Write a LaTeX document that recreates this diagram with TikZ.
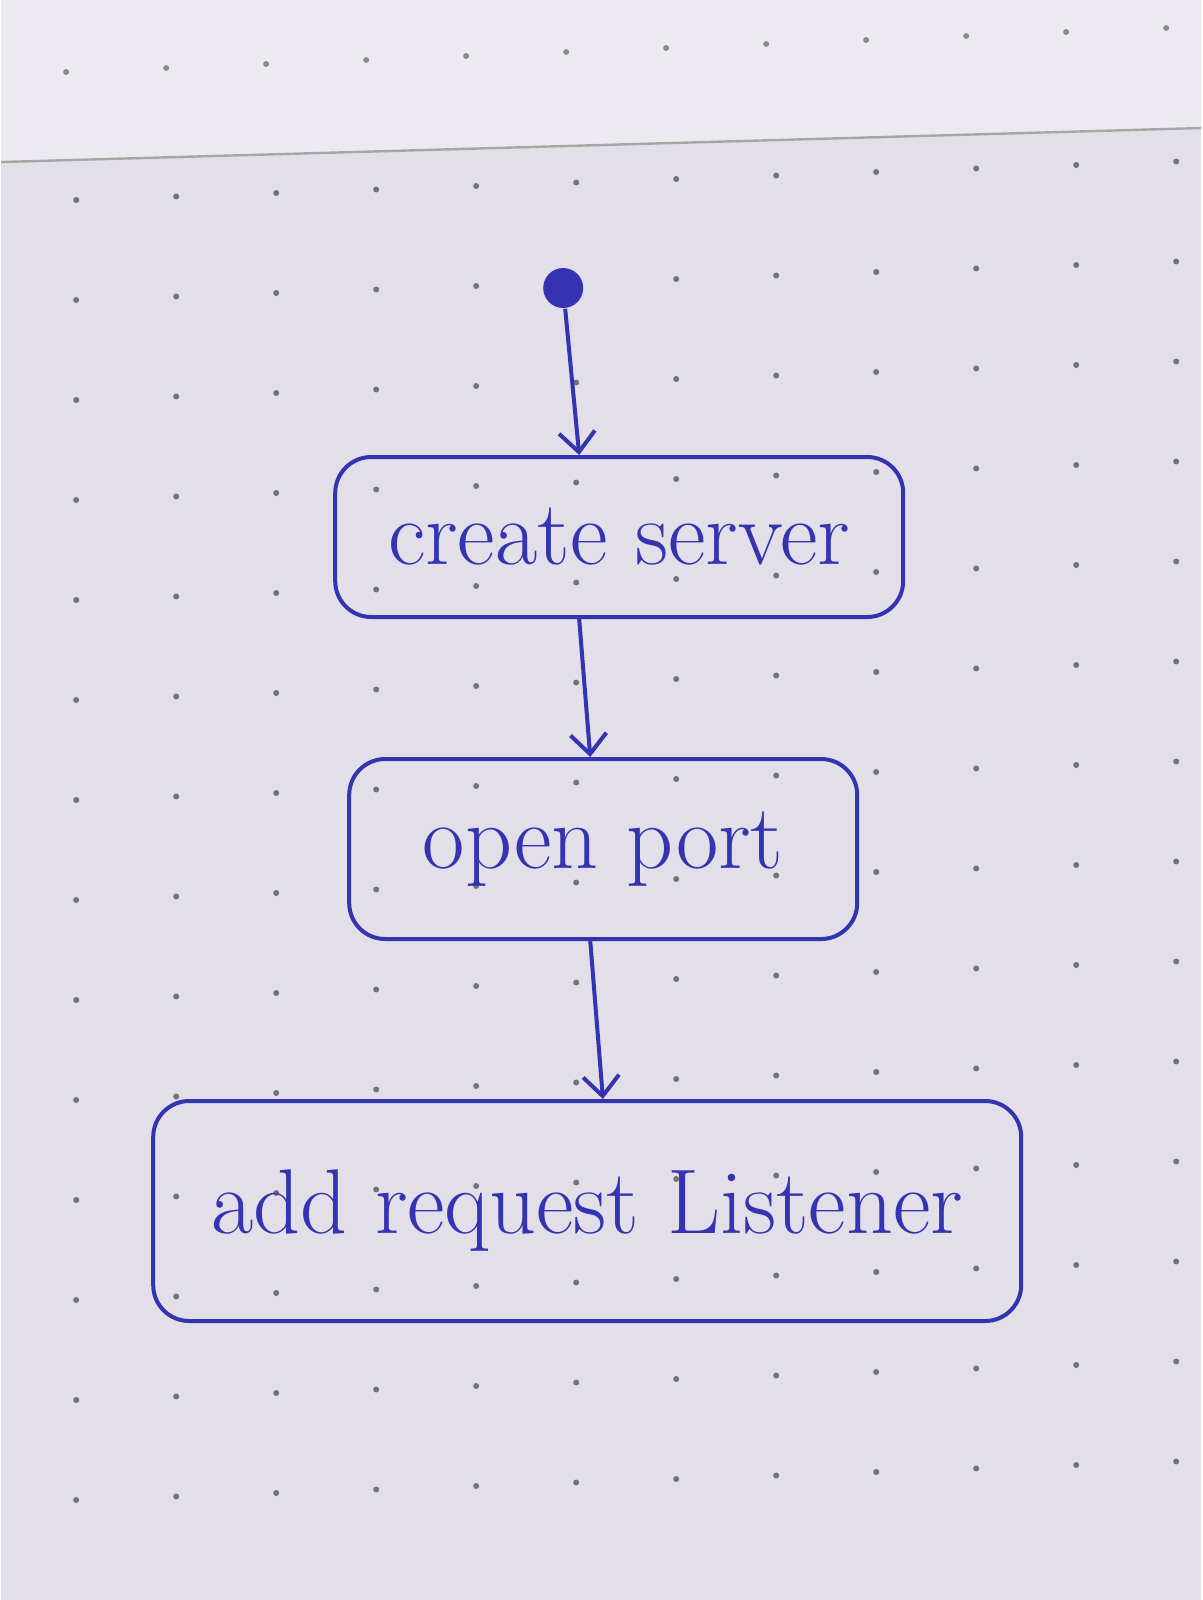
\documentclass[tikz,border=0pt]{standalone}
\usepackage{amsmath}
\usetikzlibrary{arrows.meta}
\definecolor{ink}{RGB}{52,52,178}
\definecolor{paper}{RGB}{226,223,233}
\definecolor{sheet}{RGB}{236,234,240}
\tikzset{
  activity/.style={draw=ink, line width=1pt, rounded corners=9pt, inner sep=0pt, font=\fontsize{23}{27}\selectfont, text=ink},
  flow/.style={draw=ink, line width=1pt, -{Straight Barb[length=5pt,width=9pt,line width=1pt]}},
}
\begin{document}
\begin{tikzpicture}[x=0.25pt,y=0.25pt,yscale=-1,xscale=1]
            \fill [paper] (0,0) rectangle (1200,1600);
            \fill [sheet] (0,0) -- (1200,0) -- (1200,128) -- (0,162) -- cycle;
            \draw [gray!70, line width=0.6pt] (0,162) -- (1200,128);
            \foreach \i in {0,...,11} {
              \fill [black!45] (65+100*\i,72-4*\i) circle (3);
              \foreach \j in {0,...,13} {
                \fill [black!55] (75+100*\i,200+100*\j-3.5*\i) circle (3);
              }
            }
            \node (start) [circle, fill=ink, inner sep=0pt, minimum size=10pt] at (562,288) {};
            \node (create) [activity, minimum width=142pt, minimum height=40pt] at (618,537) {create server};
            \node (open) [activity, minimum width=127pt, minimum height=45pt] at (602,849) {open port};
            \node (listen) [activity, minimum width=217pt, minimum height=55pt] at (586,1211) {add request Listener};
            \draw [flow] (start) -- (create.116);
            \draw [flow] (create.-116) -- (open.98);
            \draw [flow] (open.-98) -- (listen.82);
        \end{tikzpicture}
\end{document}
